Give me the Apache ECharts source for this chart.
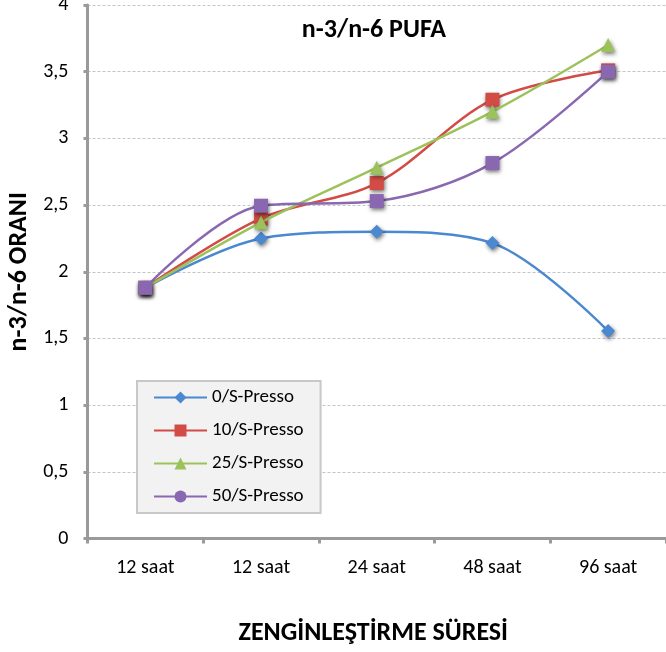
<!DOCTYPE html>
<html><head><meta charset="utf-8">
<script src="https://cdn.jsdelivr.net/npm/echarts@6/dist/echarts.min.js"></script>
<style>html,body{margin:0;padding:0;background:#fff}#c{width:666px;height:652px}</style>
</head><body><div id="c"></div>
<script>
const categories = ['12 saat', '12 saat', '24 saat', '48 saat', '96 saat'];
const seriesNames = ['0/S-Presso', '10/S-Presso', '25/S-Presso', '50/S-Presso'];
const s0 = [1.88, 2.25, 2.30, 2.215, 1.555];
const s10 = [1.88, 2.40, 2.665, 3.29, 3.51];
const s25 = [1.88, 2.37, 2.78, 3.20, 3.70];
const s50 = [1.88, 2.495, 2.53, 2.815, 3.50];
const yTicks = [0, 0.5, 1, 1.5, 2, 2.5, 3, 3.5, 4];

const colors = ['#4A88CF', '#D24B45', '#9CC25B', '#8A67B1'];
const symbols = ['diamond', 'rect', 'triangle', 'rect'];
const sizes = [14, 14, 14, 14];
const values = [s0, s10, s25, s50];
const font = 'Carlito, "Open Sans", sans-serif';
const boldFont = 'Carlito, Lato, sans-serif';

const series = values.map((v, i) => ({
  name: i === 3 ? seriesNames[i] + ' ' : seriesNames[i],
  type: 'line',
  data: v,
  smooth: 0.33,
  symbol: symbols[i],
  symbolSize: sizes[i],
  z: 2 + i,
  lineStyle: { color: colors[i], width: 2.5 },
  itemStyle: { color: colors[i], shadowBlur: 4, shadowColor: 'rgba(0,0,0,0.55)', shadowOffsetX: 1, shadowOffsetY: 2 },
  emphasis: { disabled: true }
}));
// legend entry for the purple series (legend shows a round marker)
series.push({
  name: seriesNames[3], type: 'line', data: [], symbol: 'circle',
  lineStyle: { color: colors[3], width: 2.5 }, itemStyle: { color: colors[3] }
});

const chart = echarts.init(document.getElementById('c'), null, { renderer: 'canvas' });
chart.setOption({
  animation: false,
  title: {
    text: 'n-3/n-6 PUFA', left: 369, top: 12, textAlign: 'center',
    textStyle: { fontFamily: boldFont, fontSize: 26, fontWeight: 'bold', color: '#000' }
  },
  grid: { left: 87.5, right: 0, top: 5, bottom: 113.5, outerBoundsMode: 'none' },
  legend: {
    orient: 'vertical', left: 137, top: 381,
    data: seriesNames,
    itemWidth: 53, itemHeight: 15, itemGap: 14,
    padding: [7, 17, 7, 16],
    backgroundColor: '#f2f2f2', borderColor: '#c8c8c8', borderWidth: 2, borderRadius: 0,
    textStyle: { fontFamily: font, fontSize: 19, color: '#000' },
    selectedMode: false
  },
  xAxis: {
    type: 'category', data: categories, boundaryGap: true,
    name: 'ZENGİNLEŞTİRME SÜRESİ', nameLocation: 'middle', nameGap: 82,
    nameTextStyle: { fontFamily: boldFont, fontSize: 26, fontWeight: 'bold', color: '#000', padding: [0, 7, 0, 0] },
    axisLine: { lineStyle: { color: '#9a9a9a', width: 3 } },
    axisTick: { show: true, alignWithLabel: false, length: 5, lineStyle: { color: '#9a9a9a', width: 3 } },
    axisLabel: { fontFamily: font, fontSize: 20, color: '#000', margin: 19 }
  },
  yAxis: {
    type: 'value', min: 0, max: 4, interval: 0.5,
    name: 'n-3/n-6 ORANI', nameLocation: 'middle', nameGap: 52, nameRotate: 90,
    nameTextStyle: { fontFamily: boldFont, fontSize: 26, fontWeight: 'bold', color: '#000' },
    axisLine: { show: true, lineStyle: { color: '#9a9a9a', width: 3 } },
    axisTick: { show: true, length: 4, lineStyle: { color: '#9a9a9a', width: 3 } },
    splitLine: { lineStyle: { color: '#c4c4c4', type: [3, 2], width: 1 } },
    axisLabel: {
      fontFamily: font, fontSize: 20, color: '#000', margin: 19,
      formatter: v => yTicks.includes(v) ? String(v).replace('.', ',') : ''
    }
  },
  series: series
});
</script></body></html>
